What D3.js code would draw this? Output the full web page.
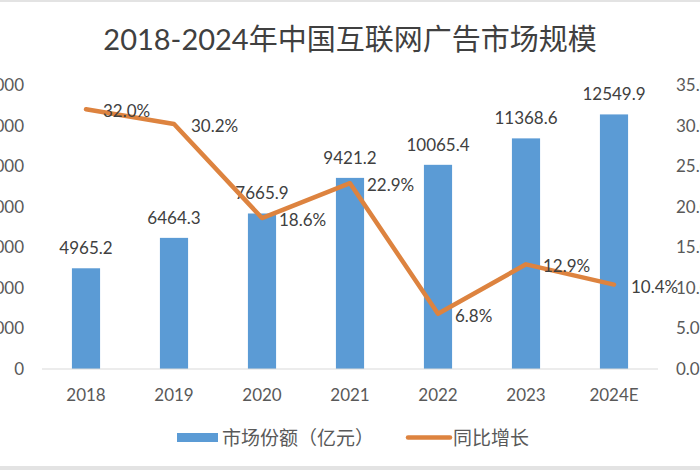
<!DOCTYPE html>
<html>
<head>
<meta charset="utf-8">
<script src="https://cdn.jsdelivr.net/npm/d3@7"></script>
<style>
  html, body { margin: 0; padding: 0; background: #ffffff; }
  svg { display: block; }
  text { font-family: Lato, "Noto Sans CJK SC", sans-serif; }
</style>
</head>
<body>
<svg id="chart" width="700" height="470"></svg>
<script>
const title = "2018-2024年中国互联网广告市场规模";
const categories = ["2018", "2019", "2020", "2021", "2022", "2023", "2024E"];
const marketSize = [4965.2, 6464.3, 7665.9, 9421.2, 10065.4, 11368.6, 12549.9];
const growth = [32.0, 30.2, 18.6, 22.9, 6.8, 12.9, 10.4];
const leftTicks = [0, 2000, 4000, 6000, 8000, 10000, 12000, 14000];
const rightTicks = [0, 5, 10, 15, 20, 25, 30, 35];
const seriesNames = ["市场份额（亿元）", "同比增长"];

const svg = d3.select("#chart");
const barColor = "#5B9BD5";
const lineColor = "#DD833F";

svg.append("rect").attr("x", 0).attr("y", 0).attr("width", 700).attr("height", 470).attr("fill", "#fff");
svg.append("rect").attr("x", 0).attr("y", 0).attr("width", 700).attr("height", 2).attr("fill", "#e3e3e3");
svg.append("rect").attr("x", 0).attr("y", 466).attr("width", 700).attr("height", 4).attr("fill", "#e3e3e3");

const x = d3.scaleBand().domain(categories).range([42, 658]).paddingInner(0.68).paddingOuter(0.34);
const yL = d3.scaleLinear().domain([0, 14000]).range([369, 85]);
const yR = d3.scaleLinear().domain([0, 35]).range([369, 85]);

// title
svg.append("text").attr("x", 350).attr("y", 50).attr("text-anchor", "middle")
  .attr("font-size", 29).attr("fill", "#404040").text(title);

// left axis
const axL = svg.append("g").attr("transform", "translate(24,0)")
  .call(d3.axisLeft(yL).tickValues(leftTicks).tickSize(0).tickPadding(0).tickFormat(d3.format("d")));
axL.select(".domain").remove();
axL.selectAll("text").attr("font-size", 17).attr("fill", "#595959").attr("font-family", "Lato");

// right axis
const axR = svg.append("g").attr("transform", "translate(676,0)")
  .call(d3.axisRight(yR).tickValues(rightTicks).tickSize(0).tickPadding(0).tickFormat(d => d.toFixed(1) + "%"));
axR.select(".domain").remove();
axR.selectAll("text").attr("font-size", 17).attr("fill", "#595959").attr("font-family", "Lato");

// bars
svg.append("g").selectAll("rect").data(categories).join("rect")
  .attr("x", d => x(d)).attr("width", x.bandwidth())
  .attr("y", (d, i) => yL(marketSize[i]))
  .attr("height", (d, i) => yL(0) - yL(marketSize[i]))
  .attr("fill", barColor);

// baseline
svg.append("line").attr("x1", 42).attr("x2", 658).attr("y1", yL(0)).attr("y2", yL(0))
  .attr("stroke", "#d9d9d9").attr("stroke-width", 1);

// x axis labels
const axB = svg.append("g").attr("transform", `translate(0,${yL(0)})`)
  .call(d3.axisBottom(x).tickSize(0).tickPadding(20));
axB.select(".domain").remove();
axB.selectAll("text").attr("font-size", 17).attr("fill", "#595959").attr("font-family", "Lato");

// bar labels
svg.append("g").selectAll("text").data(categories).join("text")
  .attr("x", d => x(d) + x.bandwidth() / 2)
  .attr("y", (d, i) => yL(marketSize[i]) - 14)
  .attr("text-anchor", "middle").attr("font-size", 17).attr("fill", "#404040")
  .text((d, i) => marketSize[i].toFixed(1));

// line
const line = d3.line()
  .x((d, i) => x(categories[i]) + x.bandwidth() / 2)
  .y(d => yR(d));
svg.append("path").datum(growth).attr("d", line)
  .attr("fill", "none").attr("stroke", lineColor).attr("stroke-width", 4.5)
  .attr("stroke-linejoin", "round").attr("stroke-linecap", "round");

// line labels
svg.append("g").selectAll("text").data(growth).join("text")
  .attr("x", (d, i) => x(categories[i]) + x.bandwidth() / 2 + 17)
  .attr("y", d => yR(d) + 8)
  .attr("font-size", 17).attr("fill", "#404040")
  .text(d => d.toFixed(1) + "%");

// legend
const lg = svg.append("g");
lg.append("rect").attr("x", 177).attr("y", 433).attr("width", 41).attr("height", 9).attr("fill", barColor);
lg.append("text").attr("x", 222).attr("y", 444.5).attr("font-size", 19).attr("fill", "#595959").text(seriesNames[0]);
lg.append("line").attr("x1", 408).attr("x2", 450).attr("y1", 437.5).attr("y2", 437.5)
  .attr("stroke", lineColor).attr("stroke-width", 4.5).attr("stroke-linecap", "round");
lg.append("text").attr("x", 453).attr("y", 444.5).attr("font-size", 19).attr("fill", "#595959").text(seriesNames[1]);
</script>
</body>
</html>
